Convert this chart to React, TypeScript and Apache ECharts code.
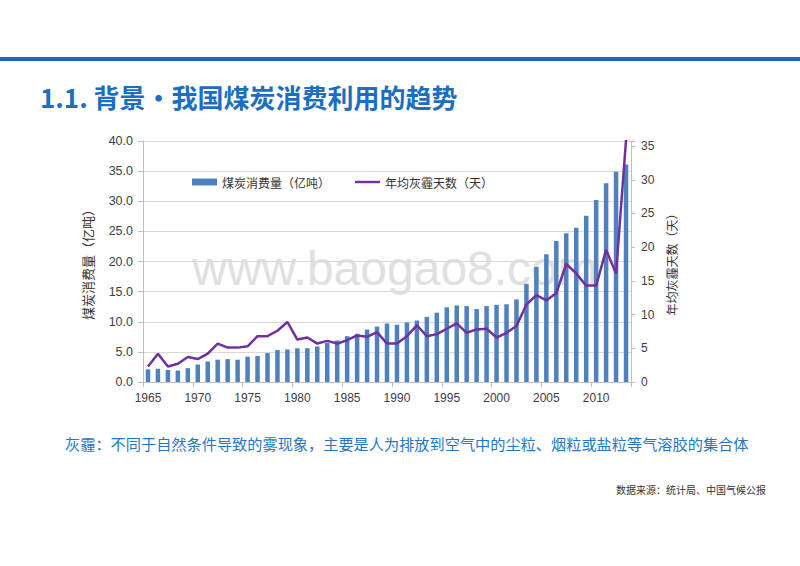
import React, { useEffect, useRef } from "react";
import * as echarts from "echarts";

const years = [
  "1965", "1966", "1967", "1968", "1969", "1970", "1971", "1972", "1973", "1974",
  "1975", "1976", "1977", "1978", "1979", "1980", "1981", "1982", "1983", "1984",
  "1985", "1986", "1987", "1988", "1989", "1990", "1991", "1992", "1993", "1994",
  "1995", "1996", "1997", "1998", "1999", "2000", "2001", "2002", "2003", "2004",
  "2005", "2006", "2007", "2008", "2009", "2010", "2011", "2012", "2013",
];

const coalConsumption = [
  2.1, 2.2, 2.0, 1.9, 2.3, 2.9, 3.4, 3.7, 3.8, 3.7,
  4.2, 4.3, 4.8, 5.3, 5.4, 5.6, 5.6, 5.9, 6.5, 6.9,
  7.6, 8.0, 8.7, 9.2, 9.7, 9.5, 9.9, 10.2, 10.8, 11.5,
  12.4, 12.7, 12.6, 12.1, 12.6, 12.8, 12.9, 13.7, 16.3, 19.1,
  21.2, 23.4, 24.7, 25.6, 27.6, 30.2, 33.0, 34.9, 36.1,
];

const hazeDays = [
  2.3, 4.2, 2.3, 2.7, 3.7, 3.4, 4.2, 5.7, 5.1, 5.1,
  5.3, 6.8, 6.8, 7.6, 8.9, 6.3, 6.6, 5.7, 6.1, 5.7,
  6.2, 6.9, 6.7, 7.4, 5.7, 5.7, 6.8, 8.4, 6.8, 7.1,
  7.9, 8.7, 7.3, 7.8, 7.9, 6.6, 7.3, 8.3, 11.5, 12.9,
  12.1, 13.2, 17.5, 16.1, 14.3, 14.3, 19.6, 16.1, 35.9,
];

const seriesNames = ["煤炭消费量（亿吨）", "年均灰霾天数（天）"];
const titleText = "1.1. 背景・我国煤炭消费利用的趋势";
const noteText = "灰霾：不同于自然条件导致的雾现象，主要是人为排放到空气中的尘粒、烟粒或盐粒等气溶胶的集合体";
const sourceText = "数据来源：统计局、中国气候公报";
const watermarkText = "www.baogao8.com";

const CJK = '"Noto Sans CJK SC", "Noto Sans", sans-serif';
const LATIN = '"Liberation Sans", Arial, "Noto Sans CJK SC", sans-serif';

export default function App() {
  const ref = useRef<HTMLDivElement>(null);

  useEffect(() => {
    if (!ref.current) return;
    const chart = echarts.init(ref.current, null, { renderer: "svg" });
    chart.setOption({
      animation: false,
      backgroundColor: "#ffffff",
      textStyle: { fontFamily: LATIN },
      graphic: [
        {
          type: "rect",
          z: 10,
          shape: { x: 0, y: 57, width: 800, height: 4 },
          style: { fill: "#1a66c6" },
        },
        {
          type: "text",
          z: 10,
          x: 40,
          y: 96,
          style: {
            text: titleText,
            fill: "#1b6ec2",
            font: `bold 26px ${CJK}`,
            textVerticalAlign: "middle",
          },
        },
        {
          type: "text",
          z: -10,
          x: 395,
          y: 268,
          silent: true,
          style: {
            text: watermarkText,
            fill: "#e0e0e0",
            font: `48px ${LATIN}`,
            textAlign: "center",
            textVerticalAlign: "middle",
          },
        },
        {
          type: "text",
          z: 10,
          x: 65,
          y: 443,
          style: {
            text: noteText,
            fill: "#2576c4",
            font: `15.2px ${CJK}`,
            textVerticalAlign: "middle",
          },
        },
        {
          type: "text",
          z: 10,
          x: 766,
          y: 489,
          style: {
            text: sourceText,
            fill: "#333333",
            font: `10px ${CJK}`,
            textAlign: "right",
            textVerticalAlign: "middle",
          },
        },
      ],
      legend: {
        left: 192,
        top: 176,
        padding: 0,
        itemGap: 25,
        itemWidth: 25,
        itemHeight: 7,
        textStyle: { fontSize: 12, color: "#333333", fontFamily: CJK },
        data: [
          { name: seriesNames[0], icon: "rect" },
          { name: seriesNames[1], icon: "path://M0,0 L27,0 L27,2.6 L0,2.6 Z" },
        ],
      },
      grid: { left: 143, right: 169, top: 141, height: 241, containLabel: false },
      xAxis: {
        type: "category",
        data: years,
        boundaryGap: true,
        axisLine: { lineStyle: { color: "#bfbfbf", width: 1 } },
        axisTick: { show: true, interval: 4, length: 5, lineStyle: { color: "#bfbfbf" } },
        axisLabel: { interval: 4, fontSize: 12, color: "#404040", margin: 10 },
        splitLine: { show: false },
      },
      yAxis: [
        {
          type: "value",
          min: 0,
          max: 40,
          interval: 5,
          position: "left",
          name: seriesNames[0],
          nameLocation: "middle",
          nameRotate: 90,
          nameGap: 49,
          nameTextStyle: { fontSize: 13, color: "#333333", fontFamily: CJK },
          axisLine: { show: true, lineStyle: { color: "#bfbfbf" } },
          axisTick: { show: true, length: 5, lineStyle: { color: "#bfbfbf" } },
          axisLabel: {
            fontSize: 12.5,
            color: "#404040",
            margin: 10,
            formatter: (v: number) => v.toFixed(1),
          },
          splitLine: { show: true, lineStyle: { color: "#d9d9d9", width: 1 } },
        },
        {
          type: "value",
          min: 0,
          max: 35.75,
          interval: 5,
          position: "right",
          name: seriesNames[1],
          nameLocation: "middle",
          nameRotate: 90,
          nameGap: 33,
          nameTextStyle: { fontSize: 12, color: "#333333", fontFamily: CJK },
          axisLine: { show: true, lineStyle: { color: "#bfbfbf" } },
          axisTick: { show: true, length: 4, lineStyle: { color: "#bfbfbf" } },
          axisLabel: {
            fontSize: 12,
            color: "#404040",
            margin: 10,
            formatter: (v: number) => (Math.abs(v % 5) < 1e-6 ? String(v) : ""),
          },
          splitLine: { show: false },
        },
      ],
      series: [
        {
          name: seriesNames[0],
          type: "bar",
          yAxisIndex: 0,
          data: coalConsumption,
          barWidth: 4.5,
          itemStyle: { color: "#4f81bd" },
        },
        {
          name: seriesNames[1],
          type: "line",
          yAxisIndex: 1,
          data: hazeDays,
          symbol: "none",
          showSymbol: false,
          clip: true,
          lineStyle: { color: "#7030a0", width: 2.5 },
          itemStyle: { color: "#7030a0" },
        },
      ],
    });
    return () => chart.dispose();
  }, []);

  return (
    <div
      ref={ref}
      style={{ position: "fixed", left: 0, top: 0, width: 800, height: 566 }}
    />
  );
}
